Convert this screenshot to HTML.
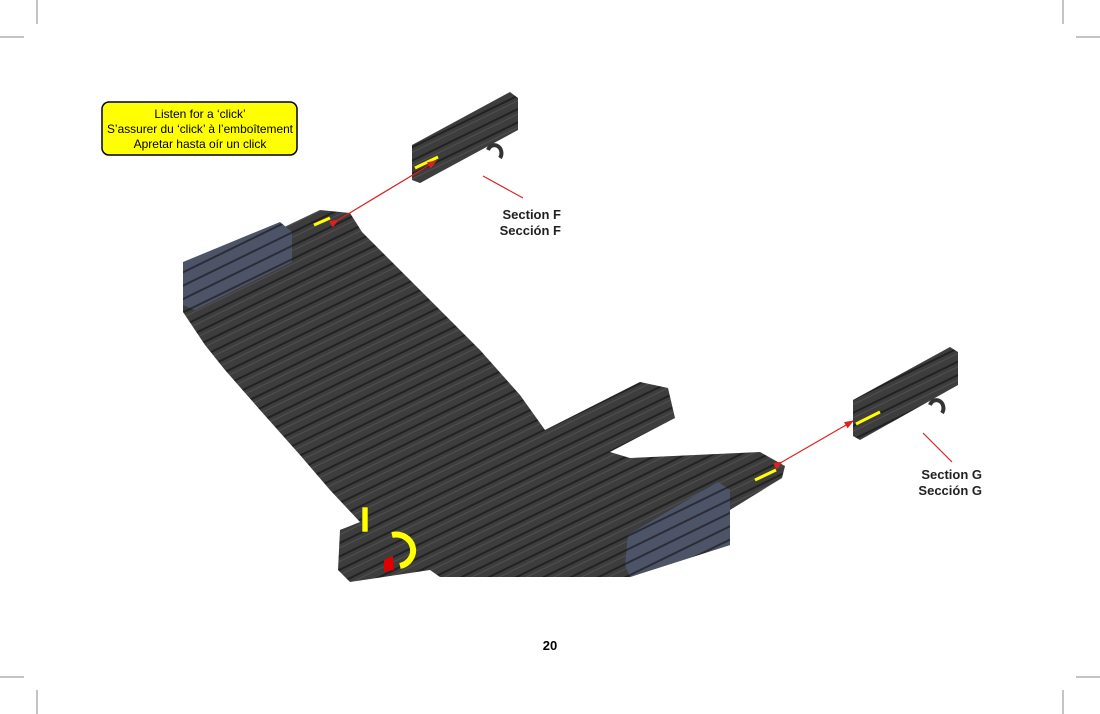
<!DOCTYPE html>
<html><head><meta charset="utf-8"><style>
body{margin:0;background:#fff;}
svg{display:block}
text{font-family:"Liberation Sans",sans-serif}
</style></head><body>
<svg width="1100" height="714" viewBox="0 0 1100 714" xmlns="http://www.w3.org/2000/svg">
<defs>
<pattern id="rods" patternUnits="userSpaceOnUse" width="12" height="12" patternTransform="rotate(-26)">
<rect width="12" height="12" fill="#3d3d3d"/>
<rect y="0" width="12" height="2" fill="#222"/>
<rect y="5" width="12" height="1" fill="#505050"/>
</pattern>
<pattern id="rodsb" patternUnits="userSpaceOnUse" width="12" height="12" patternTransform="rotate(-26)">
<rect width="12" height="12" fill="#4e5468"/>
<rect y="0" width="12" height="2" fill="#2a2d38"/>
</pattern>
<marker id="ah" markerWidth="8" markerHeight="8" refX="7" refY="4" orient="auto"><path d="M0,1 L8,4 L0,7z" fill="#e02020"/></marker>
</defs>
<g stroke="#888" stroke-width="1">
<line x1="37" y1="0" x2="37" y2="24"/><line x1="0" y1="37" x2="24" y2="37"/>
<line x1="1063" y1="0" x2="1063" y2="24"/><line x1="1076" y1="37" x2="1100" y2="37"/>
<line x1="37" y1="690" x2="37" y2="714"/><line x1="0" y1="677" x2="24" y2="677"/>
<line x1="1063" y1="690" x2="1063" y2="714"/><line x1="1076" y1="677" x2="1100" y2="677"/>
</g>
<rect x="102" y="102" width="195" height="53" rx="7" fill="#ffff00" stroke="#000" stroke-width="1.5"/>
<text x="200" y="118" font-size="12" text-anchor="middle">Listen for a ‘click’</text>
<text x="200" y="133" font-size="12" text-anchor="middle" textLength="186" lengthAdjust="spacingAndGlyphs">S’assurer du ‘click’ à l’emboîtement</text>
<text x="200" y="148" font-size="12" text-anchor="middle">Apretar hasta oír un click</text>
<!-- main body -->
<path d="M183,275 L320,210 L350,213 L362,232 L400,270 L440,310 L480,350 L520,395 L545,430 L640,382 L668,388 L675,418 L610,452 L630,458 L760,452 L785,466 L782,478 L730,510 L730,545 L630,577 L440,577 L430,570 L350,582 L338,570 L340,530 L360,522 L330,490 L300,455 L260,410 L225,370 L205,345 L183,312 Z" fill="url(#rods)"/>
<path d="M183,262 L280,222 L292,232 L292,262 L195,310 L183,305 Z" fill="url(#rodsb)"/>
<path d="M628,535 L718,482 L730,490 L730,545 L630,577 L625,565 Z" fill="url(#rodsb)"/>
<line x1="314" y1="225" x2="330" y2="218" stroke="#ffff00" stroke-width="3"/>
<line x1="755" y1="480" x2="776" y2="470" stroke="#ffff00" stroke-width="3"/>
<rect x="362" y="507" width="6" height="25" fill="#ffff00" stroke="#333" stroke-width="0.6"/>
<path d="M392,535 A15,14 0 1 1 400,566" fill="none" stroke="#ffff00" stroke-width="6"/>
<path d="M384,560 L393,556 L394,570 L384,572Z" fill="#e00000"/>
<!-- section F -->
<path d="M412,145 L510,92 L518,98 L518,130 L420,183 L412,180 Z" fill="url(#rods)"/>
<path d="M488,150 a7,8 0 1 1 12,8" fill="none" stroke="#333" stroke-width="4"/>
<line x1="415" y1="168" x2="438" y2="157" stroke="#ffff00" stroke-width="3"/>
<!-- section G -->
<path d="M853,400 L950,347 L958,352 L958,385 L860,440 L853,436 Z" fill="url(#rods)"/>
<path d="M930,405 a7,8 0 1 1 12,8" fill="none" stroke="#333" stroke-width="4"/>
<line x1="856" y1="424" x2="880" y2="412" stroke="#ffff00" stroke-width="3"/>
<g stroke="#e02020" stroke-width="1.2">
<line x1="338" y1="220" x2="436" y2="161" marker-end="url(#ah)" marker-start="url(#ah)"/>
<line x1="782" y1="462" x2="853" y2="421" marker-end="url(#ah)" marker-start="url(#ah)"/>
<line x1="483" y1="176" x2="523" y2="198"/>
<line x1="923" y1="433" x2="952" y2="462"/>
</g>
<g font-size="13" font-weight="bold" fill="#222" text-anchor="end">
<text x="561" y="219">Section F</text><text x="561" y="235">Sección F</text>
<text x="982" y="479">Section G</text><text x="982" y="495">Sección G</text>
</g>
<text x="550" y="650" font-size="13" font-weight="bold" text-anchor="middle">20</text>
</svg>
</body></html>
